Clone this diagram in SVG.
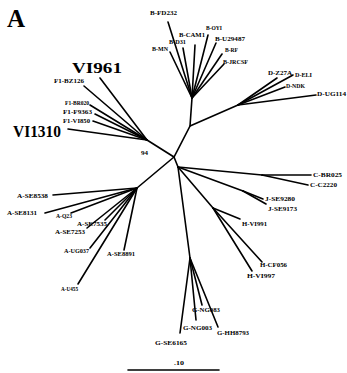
<svg xmlns="http://www.w3.org/2000/svg" width="347" height="373" viewBox="0 0 347 373">
  <style>
    .br { stroke: #000; stroke-width: 1.6; fill: none; stroke-linecap: round; }
    .lb { font-family: "Liberation Serif", "Times New Roman", serif; font-size: 7px; font-weight: bold; fill: #000; }
    .big { font-family: "Liberation Serif", "Times New Roman", serif; font-weight: bold; fill: #000; }
  </style>
  <rect width="347" height="373" fill="#fff"/>

  <text class="big" x="7" y="27" font-size="25">A</text>

  <!-- branches of the unrooted tree -->
  <g id="connectors">
    <!-- internal branches -->
    <polyline class="br" points="147,140 174,157 190,126 192,98"/>
    <line class="br" x1="174" y1="157" x2="178" y2="167"/>
    <line class="br" x1="190" y1="126" x2="238" y2="105"/>
    <line class="br" x1="174" y1="157" x2="137" y2="188"/>
    <line class="br" x1="178" y1="167" x2="262" y2="175"/>
    <line class="br" x1="178" y1="167" x2="243" y2="191"/>
    <line class="br" x1="178" y1="167" x2="213" y2="208"/>
    <line class="br" x1="178" y1="167" x2="190" y2="258"/>

    <!-- subtype B -->
    <line class="br" x1="192" y1="98" x2="168" y2="22"/>
    <line class="br" x1="192" y1="98" x2="170" y2="52"/>
    <line class="br" x1="192" y1="98" x2="183" y2="48"/>
    <line class="br" x1="192" y1="98" x2="195" y2="45"/>
    <line class="br" x1="192" y1="98" x2="208" y2="35"/>
    <line class="br" x1="192" y1="98" x2="216" y2="43"/>
    <line class="br" x1="192" y1="98" x2="222" y2="54"/>
    <line class="br" x1="192" y1="98" x2="224" y2="64"/>

    <!-- subtype D -->
    <line class="br" x1="238" y1="105" x2="277" y2="78"/>
    <line class="br" x1="238" y1="105" x2="293" y2="75"/>
    <line class="br" x1="238" y1="105" x2="285" y2="87"/>
    <line class="br" x1="238" y1="105" x2="316" y2="95"/>

    <!-- subtype F1 -->
    <line class="br" x1="147" y1="140" x2="100" y2="78"/>
    <line class="br" x1="147" y1="140" x2="84" y2="86"/>
    <line class="br" x1="147" y1="140" x2="90" y2="105"/>
    <line class="br" x1="147" y1="140" x2="95" y2="114"/>
    <line class="br" x1="147" y1="140" x2="93" y2="121"/>
    <line class="br" x1="147" y1="140" x2="68" y2="129"/>

    <!-- subtype A -->
    <line class="br" x1="137" y1="188" x2="53" y2="195"/>
    <line class="br" x1="137" y1="188" x2="45" y2="213"/>
    <line class="br" x1="137" y1="188" x2="71" y2="213"/>
    <line class="br" x1="137" y1="188" x2="105" y2="220"/>
    <line class="br" x1="137" y1="188" x2="87" y2="228"/>
    <line class="br" x1="137" y1="188" x2="90" y2="248"/>
    <line class="br" x1="137" y1="188" x2="78" y2="284"/>
    <line class="br" x1="137" y1="188" x2="124" y2="250"/>

    <!-- subtype C -->
    <line class="br" x1="262" y1="175" x2="311" y2="175"/>
    <line class="br" x1="262" y1="175" x2="308" y2="185"/>

    <!-- subtype J -->
    <line class="br" x1="243" y1="191" x2="263" y2="199"/>
    <line class="br" x1="243" y1="191" x2="266" y2="204"/>

    <!-- subtype H -->
    <line class="br" x1="213" y1="208" x2="240" y2="219"/>
    <line class="br" x1="213" y1="208" x2="262" y2="262"/>
    <line class="br" x1="213" y1="208" x2="252" y2="271"/>

    <!-- subtype G -->
    <line class="br" x1="190" y1="258" x2="180" y2="333"/>
    <line class="br" x1="190" y1="258" x2="196" y2="320"/>
    <line class="br" x1="190" y1="258" x2="202" y2="305"/>
    <line class="br" x1="190" y1="258" x2="218" y2="327"/>
  </g>

  <!-- leaf labels -->
  <g id="B-FD232"><text class="lb" x="150" y="15" textLength="27" lengthAdjust="spacingAndGlyphs">B-FD232</text></g>
  <g id="B-CAM1"><text class="lb" x="179" y="37" textLength="26" lengthAdjust="spacingAndGlyphs">B-CAM1</text></g>
  <g id="B-D31"><text class="lb" x="169" y="44" textLength="17" lengthAdjust="spacingAndGlyphs">B-D31</text></g>
  <g id="B-MN"><text class="lb" x="152" y="51" textLength="16" lengthAdjust="spacingAndGlyphs">B-MN</text></g>
  <g id="B-OYI"><text class="lb" x="206" y="30" textLength="16" lengthAdjust="spacingAndGlyphs">B-OYI</text></g>
  <g id="B-U29487"><text class="lb" x="215" y="41" textLength="30" lengthAdjust="spacingAndGlyphs">B-U29487</text></g>
  <g id="B-RF"><text class="lb" x="225" y="52" textLength="13" lengthAdjust="spacingAndGlyphs">B-RF</text></g>
  <g id="B-JRCSF"><text class="lb" x="223" y="64" textLength="25" lengthAdjust="spacingAndGlyphs">B-JRCSF</text></g>

  <g id="D-Z27A"><text class="lb" x="268" y="75" textLength="24" lengthAdjust="spacingAndGlyphs">D-Z27A</text></g>
  <g id="D-ELI"><text class="lb" x="295" y="77" textLength="17" lengthAdjust="spacingAndGlyphs">D-ELI</text></g>
  <g id="D-NDK"><text class="lb" x="286" y="88" textLength="19" lengthAdjust="spacingAndGlyphs">D-NDK</text></g>
  <g id="D-UG114"><text class="lb" x="317" y="96" textLength="29" lengthAdjust="spacingAndGlyphs">D-UG114</text></g>

  <g id="VI961"><text class="big" x="72" y="73" font-size="15" textLength="50" lengthAdjust="spacingAndGlyphs">VI961</text></g>
  <g id="F1-BZ126"><text class="lb" x="54" y="83" textLength="30" lengthAdjust="spacingAndGlyphs">F1-BZ126</text></g>
  <g id="F1-BR020"><text class="lb" x="65" y="105" textLength="24" lengthAdjust="spacingAndGlyphs">F1-BR020</text></g>
  <g id="F1-F9363"><text class="lb" x="63" y="114" textLength="29" lengthAdjust="spacingAndGlyphs">F1-F9363</text></g>
  <g id="F1-VI850"><text class="lb" x="63" y="123" textLength="27" lengthAdjust="spacingAndGlyphs">F1-VI850</text></g>
  <g id="VI1310"><text class="big" x="13" y="137" font-size="16" textLength="48" lengthAdjust="spacingAndGlyphs">VI1310</text></g>
  <g id="bootstrap"><text class="lb" x="141" y="155" font-size="6">94</text></g>

  <g id="A-SE8538"><text class="lb" x="17" y="198" textLength="31" lengthAdjust="spacingAndGlyphs">A-SE8538</text></g>
  <g id="A-SE8131"><text class="lb" x="7" y="215" textLength="30" lengthAdjust="spacingAndGlyphs">A-SE8131</text></g>
  <g id="A-Q23"><text class="lb" x="56" y="218" textLength="16" lengthAdjust="spacingAndGlyphs">A-Q23</text></g>
  <g id="A-SE7535"><text class="lb" x="77" y="226" textLength="30" lengthAdjust="spacingAndGlyphs">A-SE7535</text></g>
  <g id="A-SE7253"><text class="lb" x="55" y="234" textLength="30" lengthAdjust="spacingAndGlyphs">A-SE7253</text></g>
  <g id="A-UG037"><text class="lb" x="64" y="253" textLength="25" lengthAdjust="spacingAndGlyphs">A-UG037</text></g>
  <g id="A-U455"><text class="lb" x="61" y="291" textLength="17" lengthAdjust="spacingAndGlyphs">A-U455</text></g>
  <g id="A-SE8891"><text class="lb" x="107" y="256" textLength="28" lengthAdjust="spacingAndGlyphs">A-SE8891</text></g>

  <g id="C-BR025"><text class="lb" x="313" y="177" textLength="29" lengthAdjust="spacingAndGlyphs">C-BR025</text></g>
  <g id="C-C2220"><text class="lb" x="310" y="187" textLength="27" lengthAdjust="spacingAndGlyphs">C-C2220</text></g>

  <g id="J-SE9280"><text class="lb" x="265" y="201" textLength="30" lengthAdjust="spacingAndGlyphs">J-SE9280</text></g>
  <g id="J-SE9173"><text class="lb" x="268" y="211" textLength="29" lengthAdjust="spacingAndGlyphs">J-SE9173</text></g>

  <g id="H-VI991"><text class="lb" x="242" y="226" textLength="25" lengthAdjust="spacingAndGlyphs">H-VI991</text></g>
  <g id="H-CF056"><text class="lb" x="260" y="267" textLength="27" lengthAdjust="spacingAndGlyphs">H-CF056</text></g>
  <g id="H-VI997"><text class="lb" x="247" y="278" textLength="28" lengthAdjust="spacingAndGlyphs">H-VI997</text></g>

  <g id="G-NG083"><text class="lb" x="192" y="312" textLength="28" lengthAdjust="spacingAndGlyphs">G-NG083</text></g>
  <g id="G-NG003"><text class="lb" x="183" y="330" textLength="29" lengthAdjust="spacingAndGlyphs">G-NG003</text></g>
  <g id="G-HH8793"><text class="lb" x="217" y="335" textLength="32" lengthAdjust="spacingAndGlyphs">G-HH8793</text></g>
  <g id="G-SE6165"><text class="lb" x="155" y="345" textLength="32" lengthAdjust="spacingAndGlyphs">G-SE6165</text></g>

  <!-- distance scale -->
  <g id="scale">
    <text class="lb" x="174" y="365" textLength="10" lengthAdjust="spacingAndGlyphs">.10</text>
    <line class="br" x1="128" y1="370" x2="219" y2="370" stroke-linecap="butt"/>
  </g>
</svg>
